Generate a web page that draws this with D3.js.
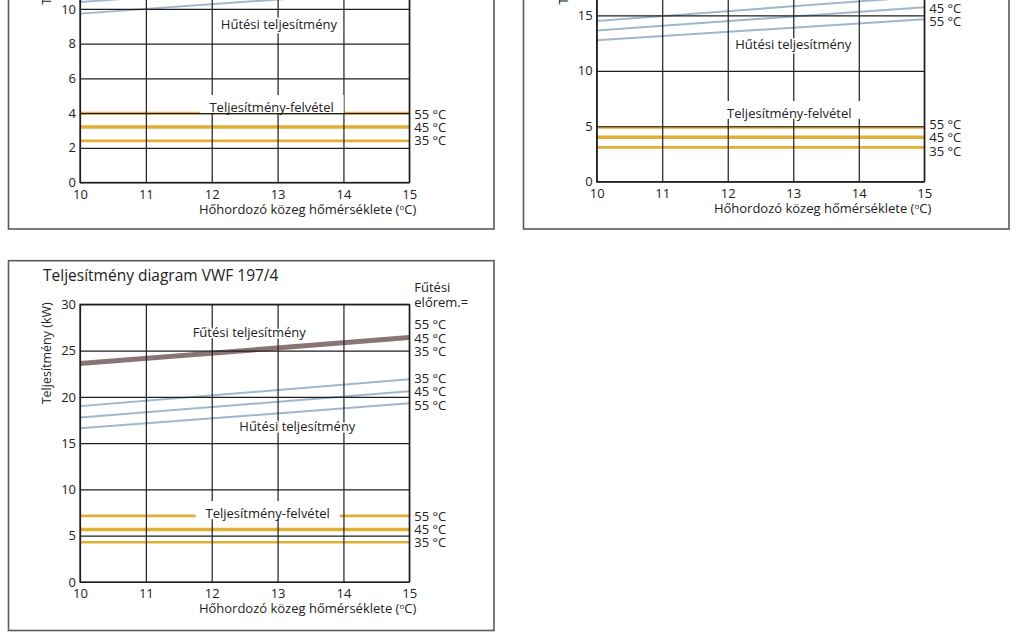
<!DOCTYPE html>
<html>
<head>
<meta charset="utf-8">
<script src="https://cdn.jsdelivr.net/npm/d3@7/dist/d3.min.js"></script>
<style>
body { margin: 0; background: #fff; }
svg { display: block; font-family: "Open Sans", sans-serif; }
</style>
</head>
<body>
<div id="container"></div>
<script>
// shared x axis: heat carrier temperature (°C)
var xTicks = [10, 11, 12, 13, 14, 15];
var xEnds = [10, 15];               // every curve is a straight line from 10 to 15
var tempNames = ["55", "45", "35"];

// VWF 117/4 (top left, cut off by the picture)
var yTicksA = [0, 2, 4, 6, 8, 10, 12, 14, 16];
var heatA = [[11.6, 13.0], [11.5, 12.9], [11.4, 12.8]];     // 55, 45, 35
var coolA = [[11.1, 12.45], [10.4, 11.75], [9.73, 11.08]];  // 35, 45, 55
var powerA = [4.0, 3.2, 2.4];                               // 55, 45, 35

// VWF 157/4 (top right)
var yTicksB = [0, 5, 10, 15, 20, 25];
var heatB = [[17.4, 19.8], [17.2, 19.6], [17.0, 19.4]];
var coolB = [[14.5, 16.7], [13.64, 15.74], [12.76, 14.65]];
var powerB = [4.9, 4.0, 3.1];

// VWF 197/4 (bottom left)
var yTicksC = [0, 5, 10, 15, 20, 25, 30];
var heatC = [[23.73, 26.53], [23.6, 26.4], [23.47, 26.27]];
var coolC = [[19.0, 21.9], [17.77, 20.6], [16.6, 19.3]];
var powerC = [7.15, 5.67, 4.3];

var colHeat = "#8b7476", colCool = "#9fb6cd", colPower = "#e1ae37", colGrid = "#1e1e1e";

var svg = d3.select("#container").append("svg")
	.attr("width", 1024)
	.attr("height", 639);

function drawPanel(p) {
	// outer frame
	svg.append("rect")
		.attr("x", p.frame[0]).attr("y", p.frame[1])
		.attr("width", p.frame[2] - p.frame[0]).attr("height", p.frame[3] - p.frame[1])
		.style("fill", "none").style("stroke", "#5a5a5a").style("stroke-width", 1.6);

	var g = svg.append("g").attr("transform", "translate(" + p.left + "," + p.top + ")");
	var w = p.width, h = p.height;
	// texts lying above the picture are not drawn
	var seen = function(yy) { return p.top + yy > 4; };

	var x = d3.scaleLinear().domain([10, 15]).range([0, w]);
	var y = d3.scaleLinear().domain([0, p.yMax]).range([h, 0]);
	var line = d3.line().x(function(d, i) { return x(xEnds[i]); }).y(function(d) { return y(d); });

	// title and legend header
	if (seen(-23)) {
		g.append("text").attr("x", -37).attr("y", -23).style("font-size", "15.5px").style("fill", "#222")
			.text("Teljesítmény diagram " + p.name);
		g.append("text").attr("x", w + 5).attr("y", -17).attr("dy", "0.35em")
			.style("font-size", "13px").style("fill", "#222").text("Fűtési");
		g.append("text").attr("x", w + 5).attr("y", -2).attr("dy", "0.35em")
			.style("font-size", "13px").style("fill", "#222").text("előrem.=");
	}

	// data lines
	g.selectAll(".heat").data(p.heat).enter().append("path")
		.attr("d", line).style("fill", "none").style("stroke", colHeat).style("stroke-width", 2.6);
	g.selectAll(".cool").data(p.cool).enter().append("path")
		.attr("d", line).style("fill", "none").style("stroke", colCool).style("stroke-width", 2);
	var pw = [2.7, 3.5, 2.6];
	g.selectAll(".power").data(p.power).enter().append("path")
		.attr("d", function(d) { return line([d, d]); })
		.style("fill", "none").style("stroke", colPower)
		.style("stroke-width", function(d, i) { return pw[i]; });

	// grid from the axes
	var ya = g.append("g").attr("class", "y axis")
		.call(d3.axisLeft(y).tickValues(p.yTicks).tickSize(-w).tickPadding(4));
	var xa = g.append("g").attr("class", "x axis")
		.attr("transform", "translate(0," + h + ")")
		.call(d3.axisBottom(x).tickValues(xTicks).tickSize(-h).tickPadding(7).tickFormat(d3.format("d")));
	[ya, xa].forEach(function(a) {
		a.select(".domain").remove();
		a.selectAll("line").style("stroke", colGrid).style("stroke-width", 1.2);
		a.selectAll("text").style("font-size", "13px").style("fill", "#222").style("font-family", "Open Sans");
	});
	ya.selectAll(".tick").filter(function(d) { return !seen(y(d)); }).select("text").remove();
	g.append("rect").attr("width", w).attr("height", h)
		.style("fill", "none").style("stroke", colGrid).style("stroke-width", 1.3);

	// axis titles
	g.append("text").attr("x", w + 7).attr("y", h + 31.5).style("text-anchor", "end")
		.style("font-size", "13px").style("fill", "#222")
		.html("Hőhordozó közeg hőmérséklete (<tspan dy='-4' font-size='8px'>o</tspan><tspan dy='4'>C)</tspan>");
	g.append("text").attr("transform", "translate(-29," + 100 + ") rotate(-90)")
		.style("font-size", "12.5px").style("fill", "#222").text("Teljesítmény (kW)");

	// curve labels with a white halo
	function halo(t, xv, yv) {
		if (!seen(y(yv))) return;
		g.append("text").attr("x", x(xv)).attr("y", y(yv)).attr("dy", "0.35em")
			.style("text-anchor", "middle").style("font-size", "13px").style("fill", "#222")
			.style("stroke", "#fff").style("stroke-width", 3).style("paint-order", "stroke")
			.text(t);
	}
	halo("Fűtési teljesítmény", p.heatLab[0], p.heatLab[1]);
	halo("Hűtési teljesítmény", p.coolLab[0], p.coolLab[1]);

	// power label sits in a white box
	var px = x(p.powLab[0]), py = y(p.powLab[1]);
	g.append("rect").attr("x", px - 72).attr("y", py - 12).attr("width", 144).attr("height", 18)
		.style("fill", "#fff");
	g.append("text").attr("x", px).attr("y", py).attr("dy", "0.35em")
		.style("text-anchor", "middle").style("font-size", "13px").style("fill", "#222")
		.text("Teljesítmény-felvétel");

	// right-hand temperature labels, spread evenly around the line ends
	function endLabels(vals, names) {
		var ys = vals.map(function(v) { return y(v); });
		var mid = d3.mean(ys);
		g.selectAll(null).data(names.filter(function(d, i) { return seen(mid + (i - 1) * 13.3); }))
			.enter().append("text")
			.attr("x", w + 5)
			.attr("y", function(d) { return mid + (names.indexOf(d) - 1) * 13.3; })
			.attr("dy", "0.38em")
			.style("font-size", "13px").style("fill", "#222")
			.text(function(d) { return d + " °C"; });
	}
	endLabels(p.heat.map(function(d) { return d[1]; }), tempNames);
	endLabels(p.cool.map(function(d) { return d[1]; }), tempNames.slice().reverse());
	endLabels(p.power, tempNames);
}

drawPanel({ name: "VWF 117/4", frame: [8.5, -141, 494, 229], left: 80, top: -95.2, width: 329.3, height: 277.7,
	yMax: 16, yTicks: yTicksA, heat: heatA, cool: coolA, power: powerA,
	heatLab: [12.6, 14.6], coolLab: [13.02, 9.13], powLab: [12.91, 4.35] });

drawPanel({ name: "VWF 157/4", frame: [523.5, -141, 1009, 229], left: 596.7, top: -95.5, width: 327.6, height: 277.2,
	yMax: 25, yTicks: yTicksB, heat: heatB, cool: coolB, power: powerB,
	heatLab: [12.6, 21.6], coolLab: [13.0, 12.38], powLab: [12.94, 6.2] });

drawPanel({ name: "VWF 197/4", frame: [8.5, 260.7, 494, 630.5], left: 80, top: 304.3, width: 329.3, height: 277.7,
	yMax: 30, yTicks: yTicksC, heat: heatC, cool: coolC, power: powerC,
	heatLab: [12.57, 27.0], coolLab: [13.3, 16.78], powLab: [12.85, 7.45] });
</script>
</body>
</html>
